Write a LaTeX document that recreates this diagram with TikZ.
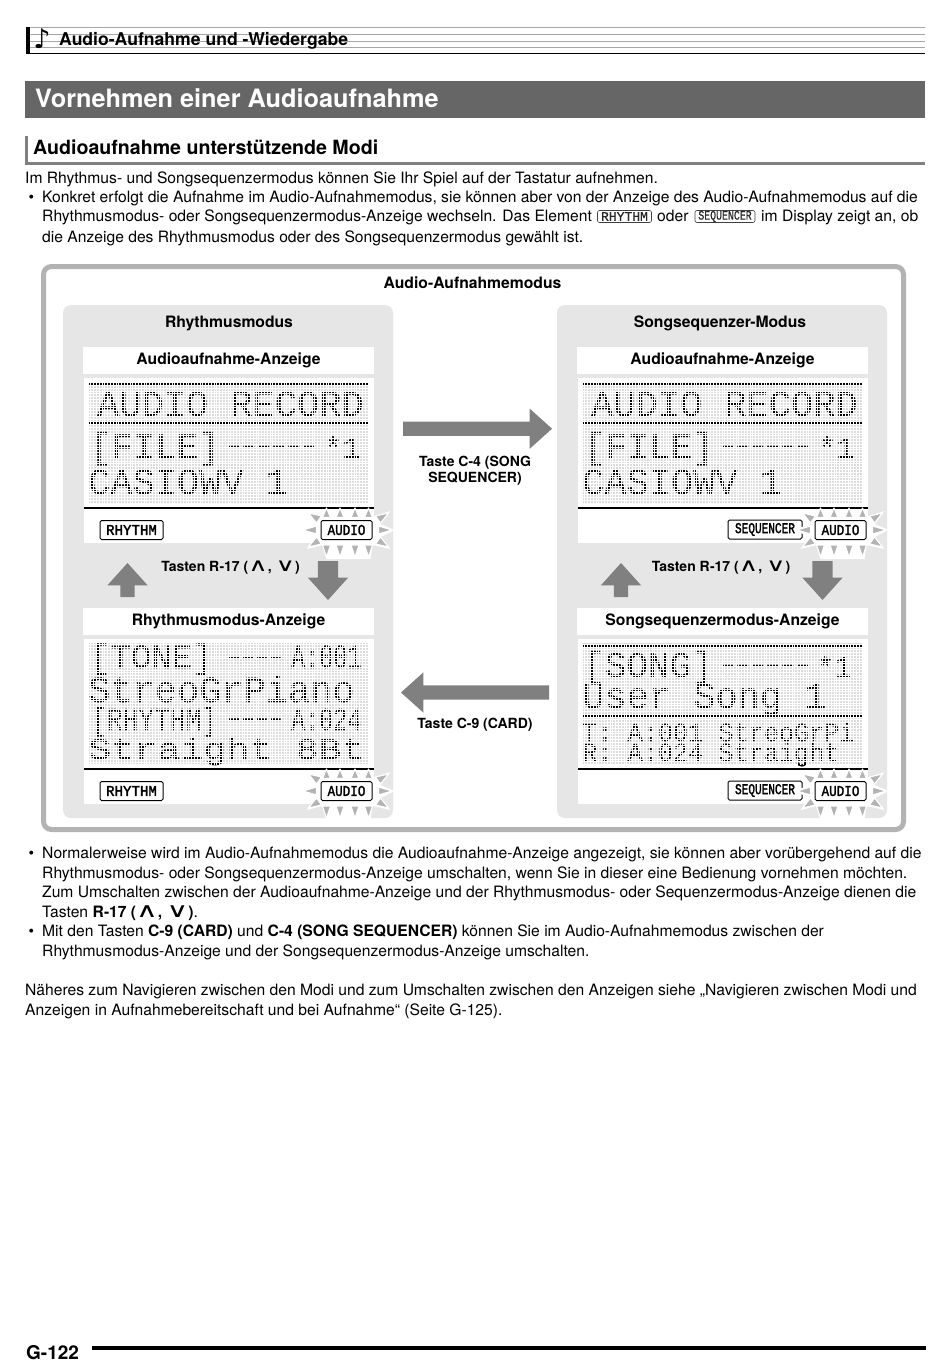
\documentclass[tikz,border=0pt]{standalone}
\usepackage{fontspec}
\usepackage{graphicx}
\setmainfont{TeX Gyre Heros}
\newfontfamily\lcdfont[FakeBold=0.4]{Liberation Mono}
\newfontfamily\iconfont[FakeBold=2]{Liberation Mono}
\newfontfamily\thinicon[FakeBold=0.6]{Liberation Mono}
\newfontfamily\symfont{DejaVu Sans}
\usetikzlibrary{arrows.meta,positioning,shapes.arrows}
\definecolor{bandgray}{HTML}{666666}
\definecolor{framegray}{HTML}{B3B3B3}
\definecolor{panelgray}{HTML}{E6E6E6}
\definecolor{arrowgray}{HTML}{808080}
\definecolor{dotgray}{HTML}{DCDCDC}
\newcommand{\fsz}[1]{\fontsize{#1}{#1}\selectfont}
\newcommand{\upsym}{\scalebox{1.9}[1.3]{\symfont\mdseries ∧}}
\newcommand{\downsym}{\scalebox{1.9}[1.3]{\symfont\mdseries ∨}}
\tikzset{
  bodyline/.style={anchor=base west, inner sep=0pt, font=\fsz{15.65}},
  boldline/.style={anchor=center, inner sep=0pt, font=\fsz{15.7}\bfseries},
  keylabel/.style={anchor=center, inner sep=0pt, align=center, font=\fontsize{14}{16}\selectfont\bfseries},
  bandbox/.style={fill=white, minimum width=291pt, minimum height=27pt, inner sep=0pt, font=\fsz{15.7}\bfseries},
  lcdline/.style={anchor=base west, inner sep=0pt, text=black},
  lcdgrid/.style={draw=white, line width=0.9pt, step=2.8pt},
  lcdicon/.style={draw=black, fill=white, line width=1pt, rounded corners=1.5pt, inner sep=0pt, minimum height=19pt, font=\fsz{15}\iconfont},
  texticon/.style={draw=black!75, line width=0.6pt, rounded corners=2pt, inner sep=0pt, minimum height=12pt, text=black!85, font=\fsz{13}\thinicon},
  flashray/.style={fill=framegray, draw=white, line width=1.1pt, line join=round},
  blockarrow/.style={single arrow, fill=arrowgray, anchor=tail, inner xsep=0pt, inner ysep=#1, outer sep=0pt, single arrow head extend=20pt-#1, single arrow tip angle=84},
}
\newcommand{\lcdpanel}[4]{%
  \begin{scope}[shift={(#1,#2)}]
    \node[bandbox] (#3band) at (228.5,360.5) {#4};
    \fill[white] (84,378) rectangle (374,543);
    \fill[dotgray] (88,382) rectangle (368,503);
  \end{scope}}
\newcommand{\flashmark}[2]{%
  \begin{scope}[shift={(#1,#2)}]
    \fill[white] (-46,0) -- (-31,-6) -- (-40,-19) -- (-24,-13) -- (26,-13) -- (44,-19) -- (34,-6) -- (48,0)
      -- (34,7) -- (44,19) -- (26,15) -- (24,29) -- (-20,29) -- (-24,15) -- (-40,19) -- (-31,7) -- cycle;
    \foreach \rx in {-20,-6.5,8.5,22} {
      \path[flashray] (\rx,-22) -- (\rx+4,-12.5) -- (\rx-4,-12.5) -- cycle;
      \path[flashray] (\rx,27) -- (\rx+4,15) -- (\rx-4,15) -- cycle;
    }
    \path[flashray] (-43.5,0) -- (-30,-4) -- (-30,4) -- cycle;
    \path[flashray] (45.5,0) -- (32,-4) -- (32,4) -- cycle;
    \path[flashray] (-38,-17) -- (-25,-14) -- (-30,-7) -- cycle;
    \path[flashray] (42,-17) -- (29,-14) -- (34,-7) -- cycle;
    \path[flashray] (-38,17) -- (-25,14) -- (-30,7) -- cycle;
    \path[flashray] (42,17) -- (29,14) -- (34,7) -- cycle;
  \end{scope}}

\begin{document}
\begin{tikzpicture}[x=1pt,y=-1pt]
  \useasboundingbox (0,0) rectangle (950,1367);
  \fill[white] (0,0) rectangle (950,1367);

  % page head
  \foreach \sy in {27.5,34,41,47.5} {\draw[black!35, line width=0.5pt] (26,\sy) -- (925,\sy);}
  \fill[black] (26,27) rectangle (30,54);
  \draw[black, line width=1pt] (26,53.5) -- (925,53.5);
  \node[inner sep=0pt, font=\fsz{27}\symfont] (note) at (42,39) {♪};
  \node[anchor=base west, inner sep=0pt, font=\fsz{17.6}\bfseries] (chapter) at (59,45.5) {Audio-Aufnahme und -Wiedergabe};
  \fill[bandgray] (25,81) rectangle (925,118);
  \node[anchor=base west, inner sep=0pt, text=white, font=\fsz{25.3}\bfseries] (title) at (35,107.5) {Vornehmen einer Audioaufnahme};
  \fill[arrowgray] (25,136) rectangle (28,165);
  \fill[arrowgray] (25,162) rectangle (925,165);
  \node[anchor=base west, inner sep=0pt, font=\fsz{19.6}\bfseries] (section) at (33,154.5) {Audioaufnahme unterstützende Modi};

  % text above the figure
  \node[bodyline] (p1) at (25,183) {Im Rhythmus- und Songsequenzermodus können Sie Ihr Spiel auf der Tastatur aufnehmen.};
  \node[bodyline] (b1) at (28.5,203) {•};
  \node[bodyline] (p2) at (42,203) {Konkret erfolgt die Aufnahme im Audio-Aufnahmemodus, sie können aber von der Anzeige des Audio-Aufnahmemodus auf die};
  \node[bodyline] (p3) at (42,222) {Rhythmusmodus- oder Songsequenzermodus-Anzeige wechseln. Das Element};
  \node[texticon, minimum width=54pt] (iconrhythm) at (624.5,216.5) {RHYTHM};
  \node[bodyline] (p3a) at (657,222) {oder};
  \node[texticon, minimum width=60pt] (iconseq) at (725,216.5) {\scalebox{0.76}[1]{SEQUENCER}};
  \node[bodyline] (p3b) at (761,222) {im Display zeigt an, ob};
  \node[bodyline] (p4) at (42,242) {die Anzeige des Rhythmusmodus oder des Songsequenzermodus gewählt ist.};

  % frame and panels
  \draw[framegray, line width=5pt, rounded corners=8pt, fill=white] (43.5,266.5) rectangle (903.5,829.5);
  \node[boldline] (modelabel) at (472.5,283) {Audio-Aufnahmemodus};
  \fill[panelgray, rounded corners=8pt] (63,305) rectangle (393,818);
  \fill[panelgray, rounded corners=8pt] (557,305) rectangle (887,818);
  \node[boldline] (rhythmlabel) at (229,323) {Rhythmusmodus};
  \node[boldline] (seqlabel) at (720,323) {Songsequenzer-Modus};

  \lcdpanel{0}{0}{ra}{Audioaufnahme-Anzeige}
  \lcdpanel{494}{0}{sa}{Audioaufnahme-Anzeige}
  \lcdpanel{0}{261}{rm}{Rhythmusmodus-Anzeige}
  \lcdpanel{494}{261}{sm}{Songsequenzermodus-Anzeige}

  % lcd, upper left
  \fill[black] (88,382.6) rectangle (368,385.4);
  \fill[black] (88,421.8) rectangle (368,424.6);
  \node[lcdline, font=\fsz{37}\lcdfont] (ra1) at (97,416) {AUDIO RECORD};
  \node[lcdline, font=\fsz{36}\lcdfont] (ra2) at (90,458) {[FILE]};
  \node[lcdline, font=\fsz{25}\lcdfont] (ra2a) at (226,453) {––––––};
  \node[lcdline, font=\fsz{30}\lcdfont] (ra2b) at (324,458) {*1};
  \node[lcdline, font=\fsz{37}\lcdfont] (ra3) at (88,494) {CASIOWV 1};
  \begin{scope}[shift={(88,382.6)}]
    \draw[lcdgrid] (0,120.4) grid (280,0);
  \end{scope}

  % lcd, upper right
  \fill[black] (582,382.6) rectangle (862,385.4);
  \fill[black] (582,421.8) rectangle (862,424.6);
  \node[lcdline, font=\fsz{37}\lcdfont] (sa1) at (591,416) {AUDIO RECORD};
  \node[lcdline, font=\fsz{36}\lcdfont] (sa2) at (584,458) {[FILE]};
  \node[lcdline, font=\fsz{25}\lcdfont] (sa2a) at (720,453) {––––––};
  \node[lcdline, font=\fsz{30}\lcdfont] (sa2b) at (818,458) {*1};
  \node[lcdline, font=\fsz{37}\lcdfont] (sa3) at (582,494) {CASIOWV 1};
  \begin{scope}[shift={(582,382.6)}]
    \draw[lcdgrid] (0,120.4) grid (280,0);
  \end{scope}

  % lcd, lower left
  \node[lcdline, font=\fsz{34}\lcdfont] (rm1) at (90,668) {[TONE]};
  \node[lcdline, font=\fsz{23}\lcdfont] (rm1a) at (227,663) {––––};
  \node[lcdline, font=\fsz{34}\lcdfont] (rm1b) at (291,668) {\scalebox{0.69}[1]{A:001}};
  \node[lcdline, font=\fsz{37}\lcdfont] (rm2) at (88,702) {StreoGrPiano};
  \node[lcdline, font=\fsz{32}\lcdfont] (rm3) at (91,730) {\scalebox{0.82}[1]{[RHYTHM]}};
  \node[lcdline, font=\fsz{23}\lcdfont] (rm3a) at (227,725) {––––};
  \node[lcdline, font=\fsz{32}\lcdfont] (rm3b) at (291,730) {\scalebox{0.73}[1]{A:024}};
  \node[lcdline, font=\fsz{30}\lcdfont] (rm4) at (88,759) {\scalebox{1.28}[1]{Straight 8Bt}};
  \begin{scope}[shift={(88,642)}]
    \draw[lcdgrid] (0,123.2) grid (280,0);
  \end{scope}

  % lcd, lower right
  \fill[black] (582,644.3) rectangle (862,647.1);
  \fill[black] (582,714.3) rectangle (862,717.1);
  \node[lcdline, font=\fsz{36}\lcdfont] (sm1) at (583,677) {[SONG]};
  \node[lcdline, font=\fsz{25}\lcdfont] (sm1a) at (720,672) {––––––};
  \node[lcdline, font=\fsz{30}\lcdfont] (sm1b) at (816,677) {*1};
  \node[lcdline, font=\fsz{37}\lcdfont] (sm2) at (582,708) {User Song 1};
  \node[lcdline, font=\fsz{26}\lcdfont] (sm3) at (582,741) {\scalebox{0.97}[1]{T: A:001 StreoGrPi}};
  \node[lcdline, font=\fsz{26}\lcdfont] (sm4) at (582,761) {\scalebox{0.97}[1]{R: A:024 Straight}};
  \begin{scope}[shift={(582,644.3)}]
    \draw[lcdgrid] (0,120.4) grid (280,0);
  \end{scope}

  % status rows
  \foreach \ox/\oy in {0/0,494/0,0/261,494/261} {
    \draw[black, line width=2.6pt] (84+\ox,508+\oy) -- (374+\ox,508+\oy);
  }
  \node[lcdicon, minimum width=63pt] (rhythm1) at (131.5,530) {\scalebox{0.94}[1]{RHYTHM}};
  \node[lcdicon, minimum width=63pt] (rhythm2) at (131.5,791) {\scalebox{0.94}[1]{RHYTHM}};
  \node[lcdicon, minimum width=74pt] (seq1) at (765,529.5) {\scalebox{0.74}[1]{SEQUENCER}};
  \node[lcdicon, minimum width=74pt] (seq2) at (765,790.5) {\scalebox{0.74}[1]{SEQUENCER}};
  \flashmark{346.5}{530}
  \flashmark{840.5}{530}
  \flashmark{346.5}{791}
  \flashmark{840.5}{791}
  \node[lcdicon, minimum width=51pt] (audio1) at (346.5,530) {\scalebox{0.84}[1]{AUDIO}};
  \node[lcdicon, minimum width=51pt] (audio2) at (840.5,530) {\scalebox{0.84}[1]{AUDIO}};
  \node[lcdicon, minimum width=51pt] (audio3) at (346.5,791) {\scalebox{0.84}[1]{AUDIO}};
  \node[lcdicon, minimum width=51pt] (audio4) at (840.5,791) {\scalebox{0.84}[1]{AUDIO}};

  % block arrows
  \node[blockarrow=7pt, minimum height=149pt] (c4arrow) at (403,428.7) {};
  \node[blockarrow=7pt, minimum height=148pt, rotate=180] (c9arrow) at (549,692.5) {};
  \node[blockarrow=7pt, minimum height=34pt, rotate=90] (ruparrow) at (127.5,597) {};
  \node[blockarrow=10pt, minimum height=39pt, rotate=-90] (rdownarrow) at (328,561) {};
  \node[blockarrow=7pt, minimum height=34pt, rotate=90] (suparrow) at (621,597) {};
  \node[blockarrow=10pt, minimum height=39pt, rotate=-90] (sdownarrow) at (822.5,561) {};

  \node[keylabel] (c4label) at (475,470.5) {Taste C-4 (SONG\\SEQUENCER)};
  \node[keylabel] (c9label) at (475,724.5) {Taste C-9 (CARD)};
  \node[keylabel] (rkeys) at (230.5,568) {Tasten R-17 (\upsym, \downsym)};
  \node[keylabel] (skeys) at (721,568) {Tasten R-17 (\upsym, \downsym)};

  % text below the figure
  \node[bodyline] (b2) at (28.5,858) {•};
  \node[bodyline] (q1) at (42,858) {Normalerweise wird im Audio-Aufnahmemodus die Audioaufnahme-Anzeige angezeigt, sie können aber vorübergehend auf die};
  \node[bodyline] (q2) at (42,878) {Rhythmusmodus- oder Songsequenzermodus-Anzeige umschalten, wenn Sie in dieser eine Bedienung vornehmen möchten.};
  \node[bodyline] (q3) at (42,897) {Zum Umschalten zwischen der Audioaufnahme-Anzeige und der Rhythmusmodus- oder Sequenzermodus-Anzeige dienen die};
  \node[bodyline] (q4) at (42,917) {Tasten \textbf{R-17 (\upsym, \downsym)}.};
  \node[bodyline] (b3) at (28.5,936) {•};
  \node[bodyline] (q5) at (42,936) {Mit den Tasten \textbf{C-9 (CARD)} und \textbf{C-4 (SONG SEQUENCER)} können Sie im Audio-Aufnahmemodus zwischen der};
  \node[bodyline] (q6) at (42,956) {Rhythmusmodus-Anzeige und der Songsequenzermodus-Anzeige umschalten.};
  \node[bodyline] (q7) at (25,995) {Näheres zum Navigieren zwischen den Modi und zum Umschalten zwischen den Anzeigen siehe „Navigieren zwischen Modi und};
  \node[bodyline] (q8) at (25,1015) {Anzeigen in Aufnahmebereitschaft und bei Aufnahme“ (Seite G-125).};

  % foot
  \node[anchor=base west, inner sep=0pt, font=\fsz{19}\bfseries] (pagenum) at (26,1359) {G-122};
  \fill[black] (92,1346) rectangle (926,1350);
\end{tikzpicture}
\end{document}
